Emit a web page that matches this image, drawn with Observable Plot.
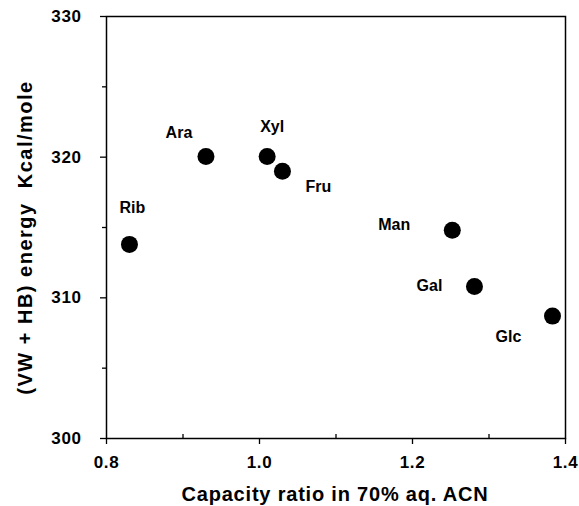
<!DOCTYPE html>
<html>
<head>
<meta charset="utf-8">
<script src="https://cdn.jsdelivr.net/npm/d3@7"></script>
<script src="https://cdn.jsdelivr.net/npm/@observablehq/plot@0.6"></script>
<style>
  body { margin: 0; background: #fff; }
  svg { font-family: "Liberation Sans", Arial, sans-serif; }
</style>
</head>
<body>
<div id="chart"></div>
<script>
// Data
const sugars = ["Rib", "Ara", "Xyl", "Fru", "Man", "Gal", "Glc"];
const capacityRatio = [0.83, 0.93, 1.01, 1.03, 1.252, 1.281, 1.383];
const energy = [313.8, 320.05, 320.05, 319.0, 314.8, 310.8, 308.7];
const xTicks = [0.8, 1.0, 1.2, 1.4];
const yTicks = [300, 310, 320, 330];
const xMinorTicks = [0.9, 1.1, 1.3];
const yMinorTicks = [305, 315, 325];
const xLabel = "Capacity ratio in 70% aq. ACN";
const yLabel = "(VW + HB) energy\u00a0\u00a0Kcal/mole";

const data = sugars.map((s, i) => ({name: s, x: capacityRatio[i], y: energy[i]}));

// label placement (pixel offsets from each point)
const labelOffset = {
  Rib: [3, -37], Ara: [-27, -24], Xyl: [5, -30], Fru: [36, 16],
  Man: [-58, -5], Gal: [-45, -1], Glc: [-44, 21]
};

const font = {fontSize: 16, fontWeight: "bold", fill: "black"};

const chart = Plot.plot({
  width: 579,
  height: 506,
  marginLeft: 106,
  marginRight: 14,
  marginTop: 16,
  marginBottom: 68,
  style: {fontFamily: "'Liberation Sans', Arial, sans-serif", background: "white", color: "black"},
  x: {type: "linear", domain: [0.8, 1.4]},
  y: {type: "linear", domain: [300, 330]},
  marks: [
    Plot.frame({stroke: "black", strokeWidth: 1.5}),
    Plot.axisX(xTicks, {tickSize: 6, tickPadding: 11, tickFormat: d3.format(".1f"), fontSize: 17, fontWeight: "bold", label: null, strokeWidth: 1.3}),
    Plot.axisX(xMinorTicks, {tickSize: -4, tickFormat: () => "", label: null, strokeWidth: 1.3}),
    Plot.axisY(yTicks, {tickSize: 6, tickPadding: 19, fontSize: 17, fontWeight: "bold", label: null, strokeWidth: 1.3}),
    Plot.axisY(yMinorTicks, {tickSize: 4, tickFormat: () => "", label: null, strokeWidth: 1.3}),
    Plot.dot(data, {x: "x", y: "y", r: 8.5, fill: "black", stroke: "none"}),
    ...data.map(d => Plot.text([d], {x: "x", y: "y", text: "name", dx: labelOffset[d.name][0], dy: labelOffset[d.name][1], ...font})),
    Plot.text([xLabel], {frameAnchor: "bottom", textAnchor: "middle", dx: -1, dy: 56, lineAnchor: "middle", fontSize: 20, fontWeight: "bold", fill: "black"}),
    Plot.text([yLabel], {frameAnchor: "left", textAnchor: "middle", dx: -81, dy: 10, rotate: -90, lineAnchor: "middle", fontSize: 20, fontWeight: "bold", fill: "black"})
  ]
});
// widen letter spacing to match the reference's typeface
const svgSel = d3.select(chart);
svgSel.selectAll("text").filter(function() { return this.textContent === xLabel; }).attr("letter-spacing", "0.8px");
svgSel.selectAll("text").filter(function() { return this.textContent === yLabel; }).attr("letter-spacing", "1.5px");
svgSel.selectAll("text").filter(function() { return xTicks.map(d3.format(".1f")).includes(this.textContent) || yTicks.map(String).includes(this.textContent); }).attr("letter-spacing", "0.6px");
document.getElementById("chart").append(chart);
</script>
</body>
</html>
